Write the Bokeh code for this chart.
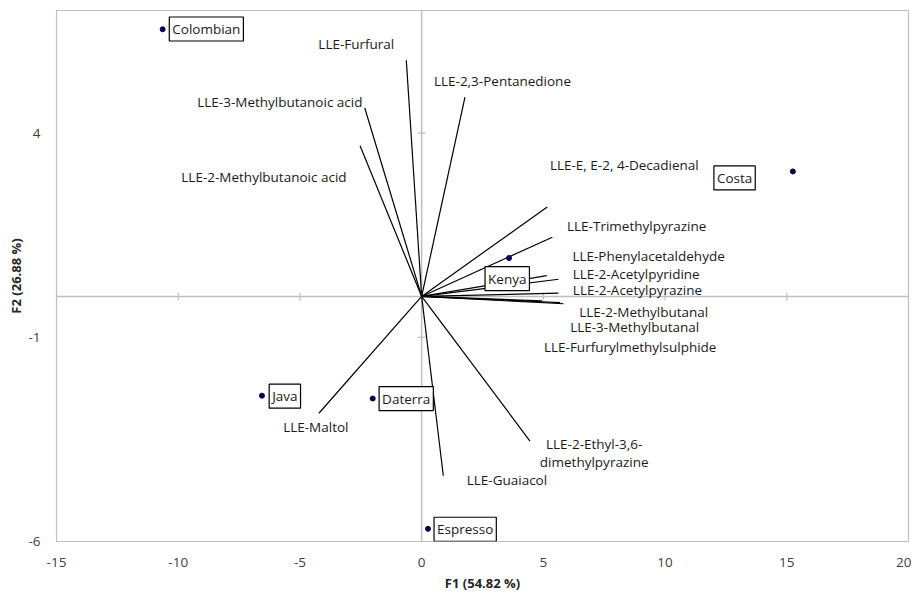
from bokeh.plotting import figure
from bokeh.models import ColumnDataSource, FixedTicker, Span
from bokeh.core.properties import value
from bokeh.embed import file_html
from bokeh.resources import INLINE

# ---- data ----
x_ticks = [-15, -10, -5, 0, 5, 10, 15, 20]
x_tick_labels = ["-15", "-10", "-5", "0", "5", "10", "15", "20"]
y_ticks = [-6, -1, 4]
y_tick_labels = ["-6", "-1", "4"]

obs_names = ["Colombian", "Costa", "Kenya", "Java", "Daterra", "Espresso"]
obs_f1 = [-10.64, 15.25, 3.59, -6.56, -2.01, 0.26]
obs_f2 = [6.54, 3.06, 0.94, -2.43, -2.50, -5.69]

var_names = [
    "LLE-Furfural",
    "LLE-2,3-Pentanedione",
    "LLE-3-Methylbutanoic acid",
    "LLE-2-Methylbutanoic acid",
    "LLE-E, E-2, 4-Decadienal",
    "LLE-Trimethylpyrazine",
    "LLE-Phenylacetaldehyde",
    "LLE-2-Acetylpyridine",
    "LLE-2-Acetylpyrazine",
    "LLE-2-Methylbutanal",
    "LLE-3-Methylbutanal",
    "LLE-Furfurylmethylsulphide",
    "LLE-2-Ethyl-3,6-\ndimethylpyrazine",
    "LLE-Guaiacol",
    "LLE-Maltol",
]
var_f1 = [-0.63, 1.78, -2.34, -2.53, 5.16, 5.37, 5.14, 5.62, 5.62, 5.83, 5.69, 4.94, 4.45, 0.89, -4.22]
var_f2 = [5.78, 4.88, 4.62, 3.69, 2.19, 1.45, 0.51, 0.42, 0.08, -0.18, -0.15, -0.11, -3.54, -4.39, -2.86]

# ---- label placement (pixel offsets, styling only) ----
obs_dx = [43.7, -58.3, -1.8, 22.9, 33.5, 37.2]
obs_dy = [-0.3, 6.5, 20.6, 0.5, 0.0, 0.4]
var_dx = [-50, 37.5, -84.8, -96.1, 77.1, 84.3, 101.8, 77.7, 79, 80.2, 74.5, 88.3, 64.2, 63.6, -3.1]
var_dy = [-16, -16, -6, 31.4, -42.4, -10.7, -19.3, -5.7, -3, 8.7, 24.7, 46, 11.7, 4.7, 13.3]

FONT = value("Open Sans")
FS = "13.5px"

p = figure(
    x_range=(-15, 20), y_range=(-6, 7),
    frame_width=852, frame_height=531,
    min_border_left=56, min_border_top=10, min_border_right=3, min_border_bottom=45,
    output_backend="svg", toolbar_location=None,
)
p.grid.visible = False
p.outline_line_color = "#bfbfbf"
p.outline_line_width = 1.2
p.background_fill_color = "white"
p.border_fill_color = "white"

xa = p.xaxis[0]
ya = p.yaxis[0]
for ax in (xa, ya):
    ax.axis_line_color = None
    ax.major_tick_line_color = None
    ax.minor_tick_line_color = None
    ax.major_label_text_font = "Open Sans"
    ax.major_label_text_font_size = FS
    ax.major_label_text_color = "#404040"
    ax.axis_label_text_font = "Open Sans"
    ax.axis_label_text_font_size = "13px"
    ax.axis_label_text_font_style = "bold"
    ax.axis_label_text_color = "#262626"
xa.ticker = FixedTicker(ticks=x_ticks)
ya.ticker = FixedTicker(ticks=y_ticks)
xa.major_label_overrides = dict(zip(x_ticks, x_tick_labels))
ya.major_label_overrides = dict(zip(y_ticks, y_tick_labels))
xa.axis_label = "F1 (54.82 %)"
ya.axis_label = "F2 (26.88 %)"
xa.major_label_standoff = 10
xa.axis_label_standoff = 4
ya.major_label_standoff = 10
ya.axis_label_standoff = 0

# axes crossing at zero
p.add_layout(Span(location=0, dimension="width", line_color="#bfbfbf",
                  line_width=1.5, level="underlay"))
p.add_layout(Span(location=0, dimension="height", line_color="#bfbfbf",
                  line_width=1.5, level="underlay"))
p.scatter(x=x_ticks, y=[0] * len(x_ticks), marker="dash", angle=1.5708,
          size=8, line_color="#bfbfbf", line_width=1.2, level="underlay")
p.scatter(x=[0] * len(y_ticks), y=y_ticks, marker="dash",
          size=8, line_color="#bfbfbf", line_width=1.2, level="underlay")

# variable vectors
vsrc = ColumnDataSource(dict(
    x0=[0] * len(var_f1), y0=[0] * len(var_f2),
    x=var_f1, y=var_f2, name=var_names, dx=var_dx, dy=var_dy,
))
p.segment(x0="x0", y0="y0", x1="x", y1="y", source=vsrc,
          line_color="black", line_width=1.2)
p.text(x="x", y="y", text="name", x_offset="dx", y_offset="dy", source=vsrc,
       text_align="center", text_baseline="middle", text_font=FONT,
       text_font_size=FS, text_color="#1a1a1a", text_line_height=1.0)

# observations
osrc = ColumnDataSource(dict(x=obs_f1, y=obs_f2, name=obs_names, dx=obs_dx, dy=obs_dy))
p.scatter(x="x", y="y", source=osrc, size=5, color="#000050")
p.text(x="x", y="y", text="name", x_offset="dx", y_offset="dy", source=osrc,
       text_align="center", text_baseline="middle", text_font=FONT,
       text_font_size=FS, text_color="#1a1a1a",
       border_line_color="black", border_line_width=1.2,
       background_fill_color="white", padding=3)

open("out.html", "w").write(file_html(p, INLINE))
